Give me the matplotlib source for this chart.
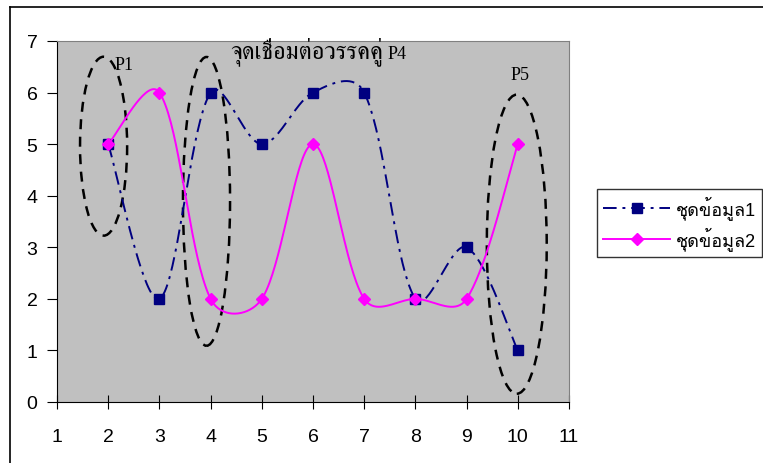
import matplotlib
matplotlib.use("Agg")
import matplotlib.pyplot as plt
from matplotlib import font_manager
from matplotlib.ft2font import FT2Font
from matplotlib.patches import Ellipse
from matplotlib.lines import Line2D
import numpy as np

# data
x = [2, 3, 4, 5, 6, 7, 8, 9, 10]
s1 = [5, 2, 6, 5, 6, 6, 2, 3, 1]
s2 = [5, 6, 2, 2, 5, 2, 2, 2, 5]
names = ["ชุดข้อมูล1", "ชุดข้อมูล2"]
# label text, x, y, size
notes = [("P1", 2.13, 6.46, 13), ("จุดเชื่อมต่อวรรคคู่", 4.38, 6.68, 17.5),
         ("P4", 7.45, 6.68, 13), ("P5", 9.85, 6.26, 13)]
# ellipses: centre x, centre y, width, height
rings = [(1.91, 4.96, 0.92, 3.47), (3.92, 3.89, 0.92, 5.6), (9.98, 3.06, 1.17, 5.8)]


def thai_fonts(serif):
    # find installed families that carry Thai glyphs
    found = []
    for f in font_manager.fontManager.ttflist:
        try:
            if 0x0E08 in FT2Font(f.fname).get_charmap():
                if f.name not in found:
                    found.append(f.name)
        except Exception:
            pass
    found.sort(key=lambda n: ("Serif" not in n) if serif else ("Serif" in n))
    return found


sans = ["Liberation Sans"] + thai_fonts(False) + ["DejaVu Sans"]
serif = ["Liberation Serif"] + thai_fonts(True) + ["DejaVu Serif"]


def smooth(xs, ys, n=40, k=1 / 6):
    # bezier smoothing like the spreadsheet's "smoothed line";
    # tangents shrink next to short segments
    p = np.column_stack([xs, ys]).astype(float)
    m = len(p)
    tang = []
    for i in range(m):
        a = p[max(i - 1, 0)]
        b = p[min(i + 1, m - 1)]
        tang.append((b - a) * k)
    out = []
    for i in range(m - 1):
        d = np.linalg.norm(p[i + 1] - p[i])
        w1 = w2 = 1.0
        if i > 0:
            w1 = np.sqrt(2 * d / (np.linalg.norm(p[i] - p[i - 1]) + d))
        if i + 2 < m:
            w2 = np.sqrt(2 * d / (np.linalg.norm(p[i + 2] - p[i + 1]) + d))
        c1 = p[i] + tang[i] * w1
        c2 = p[i + 1] - tang[i + 1] * w2
        t = np.linspace(0, 1, n)[:, None]
        seg = (1 - t) ** 3 * p[i] + 3 * (1 - t) ** 2 * t * c1 + 3 * (1 - t) * t ** 2 * c2 + t ** 3 * p[i + 1]
        out.append(seg if i == 0 else seg[1:])
    out = np.vstack(out)
    return out[:, 0], out[:, 1]


fig = plt.figure(figsize=(7.63, 4.64), dpi=100)
ax = fig.add_axes([57 / 763, 61 / 464, 512 / 763, 361 / 464])
ax.set_facecolor("#c0c0c0")

navy = "#000080"
pink = "#ff00ff"
dashdot = (0, (7, 3, 1.5, 3))

sx, sy = smooth(x, s1)
ax.plot(sx, sy, color=navy, lw=1.4, ls=dashdot)
ax.plot(x, s1, ls="none", marker="s", ms=7, color=navy)
sx, sy = smooth(x, s2)
ax.plot(sx, sy, color=pink, lw=1.4)
ax.plot(x, s2, ls="none", marker="D", ms=6.5, color=pink)

for cx, cy, w, h in rings:
    ax.add_patch(Ellipse((cx, cy), w, h, fill=False, ec="black", lw=1.8, ls=(0, (4, 3))))

for txt, tx, ty, fs in notes:
    ax.text(tx, ty, txt, family=serif, fontsize=fs, ha="left", va="baseline")

ax.set_xlim(1, 11)
ax.set_ylim(0, 7)
ax.set_xticks(range(1, 12))
ax.set_yticks(range(0, 8))
ax.tick_params(axis="y", direction="out", length=7, labelsize=14, pad=7)
ax.tick_params(axis="x", direction="inout", length=10, labelsize=14, pad=14)
for lab in ax.get_xticklabels() + ax.get_yticklabels():
    lab.set_family(sans)
for side in ["top", "right"]:
    ax.spines[side].set_color("#808080")
for side in ["left", "bottom"]:
    ax.spines[side].set_color("black")

handles = [
    Line2D([], [], color=navy, ls=dashdot, lw=1.4, marker="s", ms=7),
    Line2D([], [], color=pink, lw=1.4, marker="D", ms=6.5),
]
leg = fig.legend(handles, names, loc="upper left", bbox_to_anchor=(597 / 763, 1 - 190 / 464),
                 prop={"family": sans, "size": 13}, frameon=True, fancybox=False,
                 edgecolor="black", handlelength=3.7, borderpad=0.35, labelspacing=0.4,
                 handletextpad=0.3, borderaxespad=0)
leg.get_frame().set_linewidth(1.0)

# outer chart border
fig.add_artist(Line2D([10 / 763, 1], [1 - 8 / 464, 1 - 8 / 464], color="black", lw=1.2, transform=fig.transFigure))
fig.add_artist(Line2D([10 / 763, 10 / 763], [0, 1 - 8 / 464], color="black", lw=1.2, transform=fig.transFigure))

fig.savefig("out.png", dpi=100)
